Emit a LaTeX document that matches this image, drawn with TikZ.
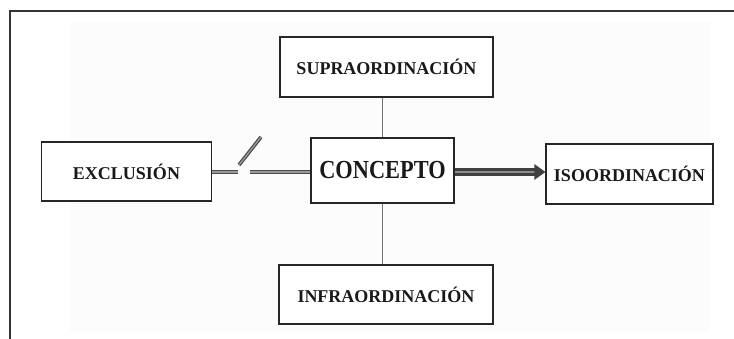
\documentclass[tikz,border=0pt]{standalone}
\usepackage{fontspec}
\setmainfont{Liberation Serif}
\usetikzlibrary{positioning,arrows.meta,calc}

\tikzset{
  box/.style={draw=black!85, line width=1.1pt, fill=white, inner sep=0pt,
    font=\fontsize{18}{20}\selectfont\bfseries, text=black!90},
  link/.style={draw=black!55, line width=1pt},
  dbl/.style={draw=black!70, line width=1.2pt, double=black!40, double distance=1.3pt},
}

\begin{document}
\begin{tikzpicture}[x=1pt,y=-1pt]
    \useasboundingbox (0,0) rectangle (734,339);
    \fill[black!1] (70,22) rectangle (710,332);
    \draw[black!80, line width=1.3pt] (10,339) -- (10,11) -- (734,11);

    \node[box, minimum width=143pt, minimum height=65pt] (concepto) at (382.5,170.5)
      {\fontsize{26}{28}\selectfont\scalebox{0.86}[1]{CONCEPTO}};
    \node[box, minimum width=213pt, minimum height=60pt] (supra) at (386.5,67) {SUPRAORDINACIÓN};
    \node[box, minimum width=214pt, minimum height=59pt] (infra) at (386,294.5) {INFRAORDINACIÓN};
    \node[box, minimum width=170pt, minimum height=59pt] (excl) at (126.5,171.5) {EXCLUSIÓN};
    \node[box, minimum width=167pt, minimum height=60pt] (iso) at (629.5,174) {ISOORDINACIÓN};

    \coordinate (gapl) at (238,172);
    \coordinate (gapr) at (250,172);
    \coordinate (sw1) at (239,165);
    \coordinate (sw2) at (261,137);

    \draw[link] (concepto.north) -- (concepto.north |- supra.south);
    \draw[link] (concepto.south) -- (concepto.south |- infra.north);
    \draw[dbl] (excl.east |- gapl) -- (gapl);
    \draw[dbl] (gapr) -- (concepto.west |- gapr);
    \draw[dbl] (sw1) -- (sw2);
    \draw[draw=black!75, line width=2.6pt, double=black!45, double distance=2.2pt,
      -{Triangle[length=11pt,width=15pt]}] (concepto.east |- 0,172) -- (iso.west |- 0,172);
  \end{tikzpicture}
\end{document}
